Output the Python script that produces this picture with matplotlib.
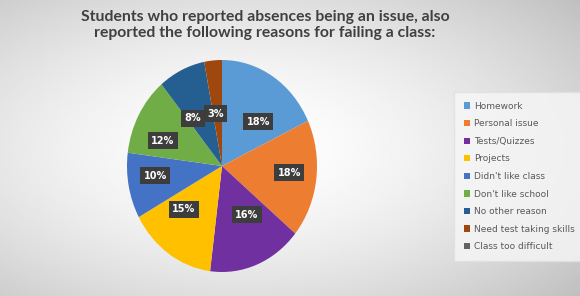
import numpy as np
import matplotlib.pyplot as plt
from matplotlib.patches import Patch

# data
reasons = ['Homework', 'Personal issue', 'Tests/Quizzes', 'Projects',
           "Didn't like class", "Don't like school", 'No other reason',
           'Need test taking skills', 'Class too difficult']
percent = [18, 18, 16, 15, 10, 12, 8, 3, 0]
colors = ['#5B9BD5', '#ED7D31', '#7030A0', '#FFC000', '#4472C4',
          '#70AD47', '#255E91', '#9E480E', '#636363']

title = ('Students who reported absences being an issue, also\n'
         'reported the following reasons for failing a class:')

W, H = 580, 296
fig = plt.figure(figsize=(W / 100, H / 100), dpi=100)

# soft grey background with light centre
bg = fig.add_axes([0, 0, 1, 1])
xx, yy = np.meshgrid(np.linspace(0, 1, 300), np.linspace(0, 1, 160))
d = np.sqrt(((xx - 0.42) / 0.75) ** 2 + ((yy - 0.5) / 0.75) ** 2)
shade = np.clip(1.0 - 0.24 * d ** 1.6, 0, 1)
bg.imshow(shade, cmap='gray', vmin=0, vmax=1, extent=[0, 1, 0, 1],
          aspect='auto', interpolation='bilinear')
bg.axis('off')

fig.text(265 / W, 1 - 25 / H, title, ha='center', va='center', fontsize=11.3,
         fontweight='bold', color='#404040', family='Lato', linespacing=1.2)

# pie is slightly stretched vertically in the reference
cx, cy, rx, ry = 222, 166, 95, 106
ax = fig.add_axes([(cx - rx) / W, (H - cy - ry) / H, 2 * rx / W, 2 * ry / H])
wedges, texts, autotexts = ax.pie(
    percent, colors=colors, startangle=90, counterclock=False,
    autopct=lambda p: f'{p:.0f}%' if p > 0.5 else '', pctdistance=0.62,
    wedgeprops=dict(linewidth=0), textprops=dict(color='white', fontsize=7,
                                                 fontweight='bold'))
for t in autotexts:
    if t.get_text():
        x, y = t.get_position()
        t.set_position((x * 1.15, y * 0.8))
        t.set_bbox(dict(boxstyle='square,pad=0.35', fc='#3d3d3d', ec='none'))
ax.set_aspect('auto')
ax.set_xlim(-1, 1)
ax.set_ylim(-1, 1)
ax.axis('off')

handles = [Patch(facecolor=c, edgecolor='none') for c in colors]
leg = fig.legend(handles, reasons, loc='upper left',
                 bbox_to_anchor=(452 / W, 1 - 90 / H), frameon=True,
                 fontsize=6.5, handlelength=0.7, handleheight=0.7,
                 handletextpad=0.4, labelspacing=0.95, borderpad=0.8,
                 labelcolor='#595959')
leg.get_frame().set_facecolor('#f7f7f7')
leg.get_frame().set_edgecolor('#e0e0e0')
leg.get_frame().set_boxstyle('square')

fig.savefig('out.png', dpi=100)
